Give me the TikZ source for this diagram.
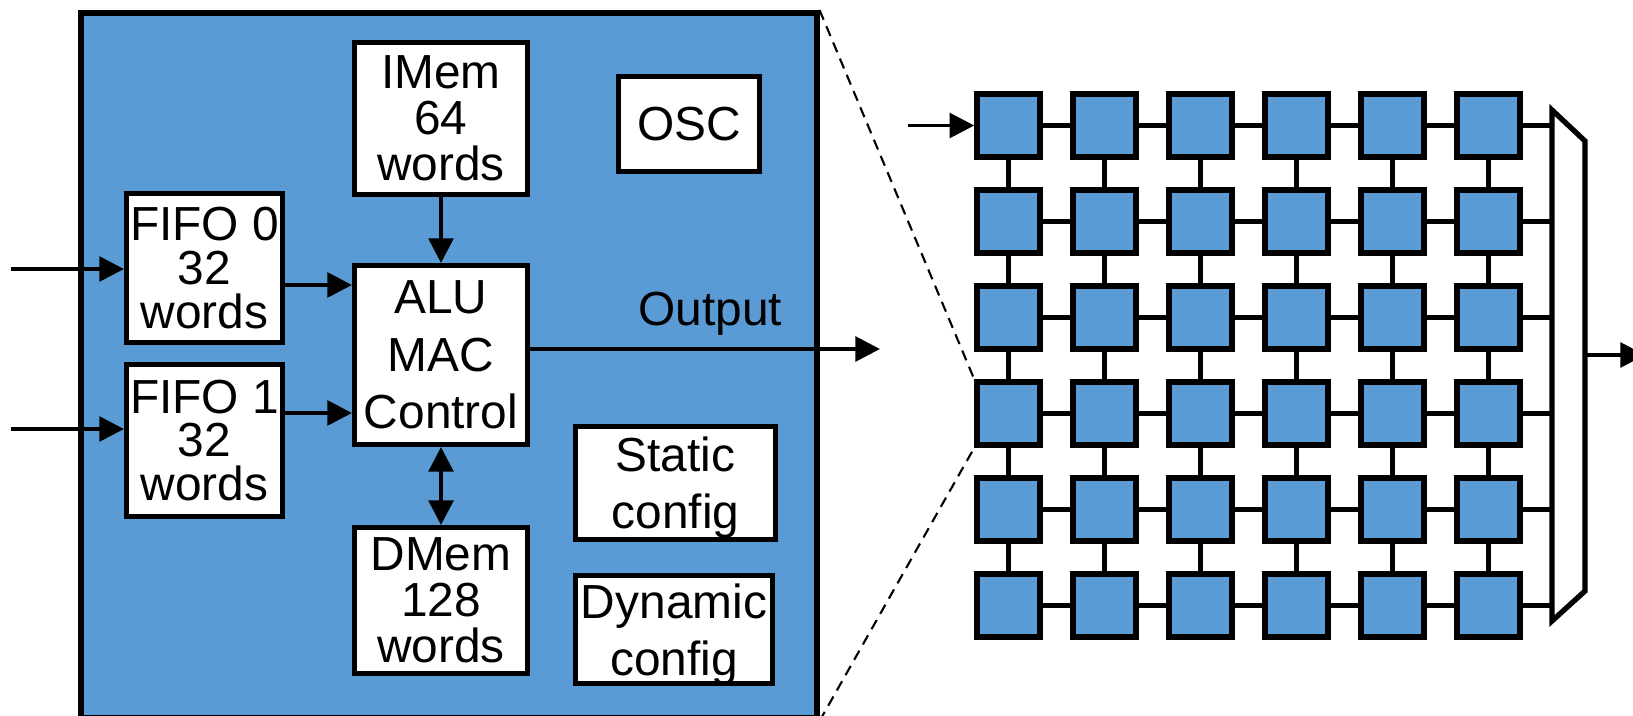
\documentclass[tikz,border=0pt]{standalone}
\usepackage{fontspec}
\setmainfont{Liberation Sans}
\usetikzlibrary{arrows.meta}
\definecolor{azulpe}{RGB}{91,155,213}
\newcommand{\letrafifo}{\fontsize{13.6}{12.4}\selectfont}
\newcommand{\letramem}{\fontsize{13.6}{13.1}\selectfont}
\newcommand{\letraalu}{\fontsize{13.6}{16.3}\selectfont}

\begin{document}
\begin{tikzpicture}[x=0.01cm,y=-0.01cm,
        caja/.style={draw,fill=white,line width=1.5pt,inner sep=0pt,align=center,font=\letramem},
        tesela/.style={draw,fill=azulpe,line width=1.5pt,minimum size=0.632cm,inner sep=0pt},
        enlace/.style={line width=1.6pt},
        flecha/.style={line width=1.1pt,-{Triangle[length=7pt,width=7pt]}},
        flechas/.style={line width=1.1pt,{Triangle[length=7pt,width=7pt]}-{Triangle[length=7pt,width=7pt]}},
        discont/.style={line width=0.6pt,dash pattern=on 3pt off 2pt}]
        \useasboundingbox (0,0) rectangle (1633,715);
        % Dibuja el elemento de proceso ampliado
        \node[draw,fill=azulpe,line width=1.6pt,minimum width=7.355cm,minimum height=7.05cm] (pe) at (448.75,365.5) {};
        \node[caja,minimum width=1.727cm,minimum height=1.517cm] (imem) at (441,118.5) {IMem\\64\\words};
        \node[caja,minimum width=1.407cm,minimum height=0.947cm] (osc) at (689,124) {OSC};
        \node[caja,font=\letrafifo,minimum width=1.557cm,minimum height=1.487cm] (fifo0) at (204.5,268) {FIFO 0\\32\\words};
        \node[caja,font=\letrafifo,minimum width=1.557cm,minimum height=1.517cm] (fifo1) at (204.5,440.5) {FIFO 1\\32\\words};
        \node[caja,font=\letraalu,minimum width=1.727cm,minimum height=1.787cm] (alu) at (441,355) {ALU\\MAC\\Control};
        \node[caja,minimum width=1.727cm,minimum height=1.457cm] (dmem) at (441,600.5) {DMem\\128\\words};
        \node[caja,font=\letraalu,text depth=0pt,minimum width=1.997cm,minimum height=1.127cm] (static) at (675.5,483) {Static\\config};
        \node[caja,font=\letraalu,text depth=0pt,minimum width=1.967cm,minimum height=1.077cm] (dynamic) at (674,629.5) {Dynamic\\config};
        \node[font=\letramem,anchor=base west,inner sep=0pt] (salida-txt) at (638,325) {Output};
        \coordinate (in0) at (11,269);
        \coordinate (in1) at (11,429);
        \coordinate (salida) at (880,349);
        \draw[flecha] (in0) -- (in0 -| fifo0.west);
        \draw[flecha] (in1) -- (in1 -| fifo1.west);
        \draw[flecha] (fifo0.east |- 0,285) -- (alu.west |- 0,285);
        \draw[flecha] (fifo1.east |- 0,413) -- (alu.west |- 0,413);
        \draw[flecha] (imem.south) -- (alu.north);
        \draw[flechas] (alu.south) -- (dmem.north);
        \draw[flecha] (alu.east |- salida) -- (salida);
        % Dibuja la malla de 6x6
        \foreach \r in {1,...,6}
            \foreach \c in {1,...,6}
                \node[tesela] (t-\r-\c) at ({912.5+96*\c},{29.5+96*\r}) {};
        \foreach \r in {1,...,6}
            \foreach \c [count=\cn from 2] in {1,...,5}
                \draw[enlace] (t-\r-\c.east) -- (t-\r-\cn.west);
        \foreach \r [count=\rn from 2] in {1,...,5}
            \foreach \c in {1,...,6}
                \draw[enlace] (t-\r-\c.south) -- (t-\rn-\c.north);
        \draw[line width=1.5pt,fill=white] (1552,110) -- (1585,141) -- (1585,591) -- (1552,621) -- cycle;
        \coordinate (mux-izq) at (1552,365);
        \coordinate (mux-der) at (1585,355);
        \coordinate (fin) at (1645,355);
        \foreach \r in {1,...,6}
            \draw[enlace] (t-\r-6.east) -- (t-\r-6.east -| mux-izq);
        \draw[flecha] (mux-der) -- (fin);
        \coordinate (ent) at (908,125.5);
        \draw[flecha] (ent) -- (t-1-1.west);
        \draw[discont] (pe.north east) -- (t-4-1.north west);
        \draw[discont] (pe.south east) -- (t-4-1.south west);
\end{tikzpicture}
\end{document}
